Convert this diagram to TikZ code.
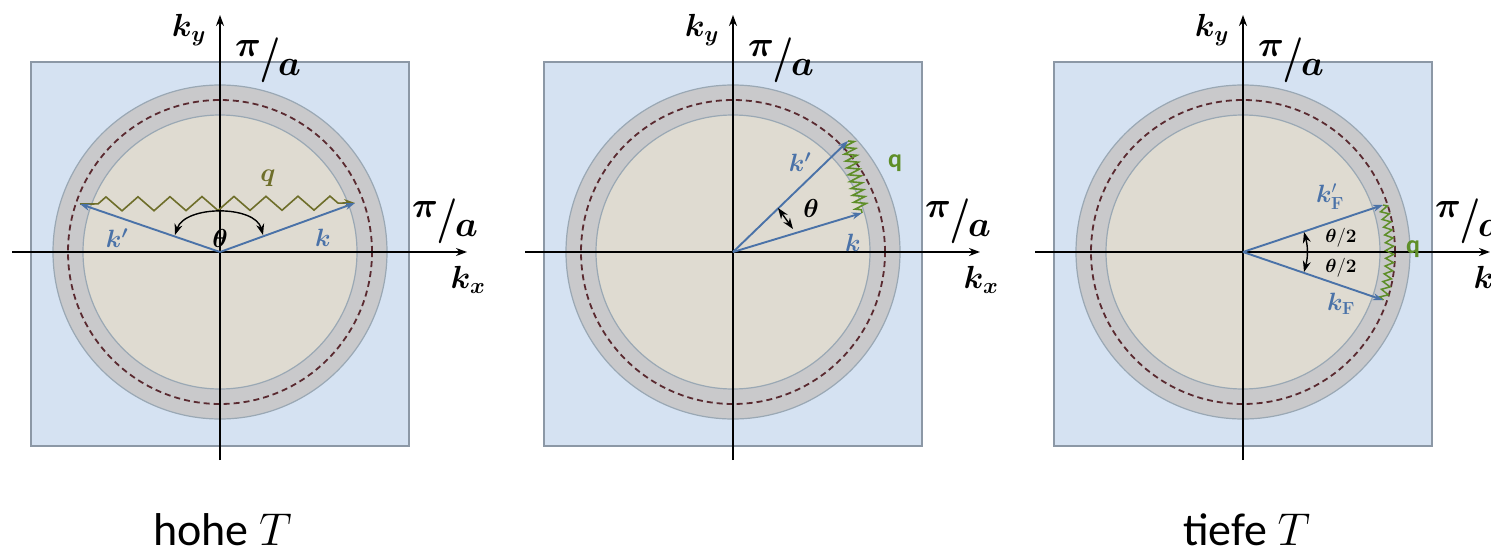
\RequirePackage{fix-cm}
\documentclass[tikz,border=0pt]{standalone}
\usepackage{amsmath,bm}
\usepackage[no-math]{fontspec}
\setmainfont{Carlito}
\usepackage{tikz}
\usetikzlibrary{arrows.meta,decorations.pathmorphing,calc}
\tikzset{>={Stealth[length=11pt,width=8pt]}}
\definecolor{bzfill}{HTML}{D5E2F2}
\definecolor{bzedge}{HTML}{8C98A6}
\definecolor{shell}{HTML}{C9C9CB}
\definecolor{shelledge}{HTML}{9AA8B4}
\definecolor{core}{HTML}{DFDBD1}
\definecolor{fermi}{HTML}{5A2A30}
\definecolor{kvec}{HTML}{4A72A8}
\definecolor{phon}{HTML}{6E6E2A}
\definecolor{phongr}{HTML}{5E8E28}
\tikzset{
  axis/.style={->,line width=2.4pt},
  vec/.style={-{Stealth[length=10pt,width=7pt]},kvec,line width=1.9pt},
  axlab/.style={font={\fontsize{32}{36}\selectfont},inner sep=0pt},
  bzlab/.style={font={\fontsize{36}{40}\selectfont},inner sep=0pt},
  veclab/.style={font={\fontsize{25}{28}\selectfont},text=kvec,inner sep=0pt},
  anglab/.style={font={\fontsize{26}{30}\selectfont},inner sep=0pt},
  halflab/.style={font={\fontsize{19}{22}\selectfont},inner sep=0pt},
  caption/.style={font={\fontsize{46}{52}\selectfont},anchor=base west,inner sep=0pt}
}
\newcommand{\piovera}{\raisebox{0.3em}{$\bm{\pi}$}\kern-0.04em\raisebox{-0.1em}{\scalebox{1}[1.25]{$\bm{/}$}}\kern-0.06em\raisebox{-0.22em}{$\bm{a}$}}
% one Brillouin zone with Fermi shell and axes; #1 = x of origin, #2 = name
\newcommand{\bzone}[2]{%
  \coordinate (O#2) at (#1,252);
  \filldraw[fill=bzfill,draw=bzedge,line width=1.5pt] ($(O#2)+(-189,-190)$) rectangle ($(O#2)+(189,194)$);
  \filldraw[fill=shell,draw=shelledge,line width=1.2pt] (O#2) circle (167pt);
  \filldraw[fill=core,draw=shelledge,line width=1.2pt] (O#2) circle (137pt);
  \draw[fermi,line width=1.8pt,dash pattern=on 6pt off 4pt] (O#2) circle (152pt);
  \coordinate (xl#2) at ($(O#2)+(-208,0)$);
  \coordinate (xr#2) at ($(O#2)+(247,0)$);
  \coordinate (yb#2) at ($(O#2)+(0,208)$);
  \coordinate (yt#2) at ($(O#2)+(0,-237)$);
  \draw[axis] (xl#2) -- (xr#2);
  \draw[axis] (yb#2) -- (yt#2);
  \node[axlab,anchor=east] (ky#2) at ($(O#2)+(-14,-222)$) {$\bm{k_y}$};
  \node[axlab] (kx#2) at ($(O#2)+(248,28)$) {$\bm{k_x}$};
  \node[bzlab] (pt#2) at ($(O#2)+(48,-192)$) {\piovera};
  \node[bzlab] (pr#2) at ($(O#2)+(225,-31)$) {\piovera};
}

\begin{document}
\begin{tikzpicture}[x=1pt,y=-1pt]
\useasboundingbox (0,0) rectangle (1491,551);
\bzone{220}{1} \bzone{733}{2} \bzone{1243}{3}

% hohe T: large angle scattering
\coordinate (K1) at (355,203);
\coordinate (Kp1) at (80,204);
\draw[phon,line width=1.6pt,->,decorate,decoration={zigzag,segment length=32pt,amplitude=7pt,pre length=18pt,post length=16pt}] (Kp1) -- (K1);
\draw[vec] (O1) -- (K1);
\draw[vec] (O1) -- (Kp1);
\coordinate (ta1) at (175,235);
\coordinate (tb1) at (263,235);
\draw[<->,line width=1.4pt] (ta1) .. controls (185,205) and (255,205) .. (tb1);
\node[anglab] (th1) at (220,238) {$\bm{\theta}$};
\node[veclab] (kpl1) at (117,238) {$\bm{k'}$};
\node[veclab] (kl1) at (323,238) {$\bm{k}$};
\node[anglab,text=phon] (ql1) at (268,178) {$\bm{q}$};

% middle: small angle
\coordinate (K2) at (862,213);
\coordinate (Kp2) at (848,141);
\draw[phongr,line width=1.6pt,decorate,decoration={zigzag,segment length=7pt,amplitude=6pt}] (Kp2) -- (K2);
\draw[vec] (O2) -- (K2);
\draw[vec] (O2) -- (Kp2);
\coordinate (ta2) at (778,208);
\coordinate (tb2) at (793,229);
\draw[<->,line width=1.4pt] (ta2) -- (tb2);
\node[anglab] (th2) at (811,208) {$\bm{\theta}$};
\node[veclab] (kpl2) at (800,162) {$\bm{k'}$};
\node[veclab] (kl2) at (853,243) {$\bm{k}$};
\node[anglab,text=phongr] (ql2) at (895,163) {\textbf{q}};

% tiefe T: scattering across Fermi surface
\coordinate (K3) at (1383,300);
\coordinate (Kp3) at (1383,205);
\draw[phongr,line width=1.5pt,decorate,decoration={zigzag,segment length=8pt,amplitude=4pt}] (Kp3) to[bend left=14] (K3);
\draw[vec] (O3) -- (K3);
\draw[vec] (O3) -- (Kp3);
\coordinate (ta3) at (1304,232);
\coordinate (tb3) at (1304,272);
\draw[<->,line width=1.4pt] (ta3) to[bend left=15] (tb3);
\node[halflab] (th3a) at (1341,238) {$\bm{\theta}/\mathbf{2}$};
\node[halflab] (th3b) at (1341,268) {$\bm{\theta}/\mathbf{2}$};
\node[veclab] (kpl3) at (1330,197) {$\bm{k}'_{\mathbf{F}}$};
\node[veclab] (kl3) at (1341,304) {$\bm{k}_{\mathbf{F}}$};
\node[anglab,text=phongr] (ql3) at (1413,249) {\textbf{q}};

\node[caption] (hot) at (153,545) {hohe $T$};
\node[caption] (cold) at (1183,545) {tiefe $T$};
\end{tikzpicture}
\end{document}
